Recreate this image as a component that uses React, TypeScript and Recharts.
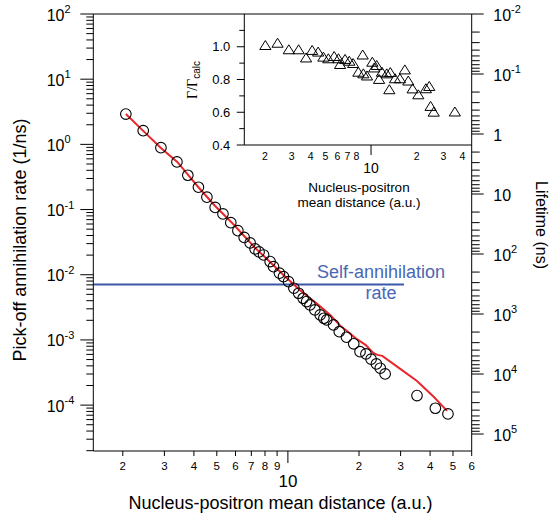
import React from 'react';
import { ComposedChart, ScatterChart, Scatter, Line, XAxis, YAxis, ReferenceLine } from 'recharts';

const FONT = '"Liberation Sans", Arial, Helvetica, sans-serif';
const RED = '#e8262b';
const BLUE = '#3b58a8';

// measured pick-off annihilation rates (circles)
const measuredDistance = [2.06, 2.44, 2.9, 3.39, 3.77, 4.18, 4.54, 4.92, 5.31, 5.73, 6.14, 6.53, 6.92, 7.26, 7.55, 7.89, 8.41, 8.69, 9.21, 9.58, 10.06, 10.6, 11.1, 11.6, 12.0, 12.4, 13.0, 13.7, 14.2, 14.6, 15.6, 16.5, 17.7, 19.0, 20.2, 21.4, 22.5, 23.7, 24.6, 25.8, 35.2, 42.1, 47.6];
const measuredRate = [2.92, 1.62, 0.89, 0.537, 0.336, 0.22, 0.155, 0.108, 0.0857, 0.063, 0.0474, 0.0373, 0.0308, 0.0249, 0.0224, 0.0201, 0.0159, 0.0133, 0.01055, 0.00935, 0.00783, 0.00621, 0.0052, 0.00436, 0.00387, 0.00344, 0.00289, 0.00242, 0.00215, 0.00203, 0.0017, 0.00134, 0.0011, 0.00087, 0.00066, 0.00061, 0.000506, 0.000429, 0.000368, 0.000301, 0.00014, 0.0000895, 0.0000733];

// calculated rate (red curve)
const calcDistance = [2.06, 2.44, 2.9, 3.4, 3.78, 4.17, 4.92, 5.75, 6.59, 7.26, 8.15, 9.58, 11.1, 12.2, 13.3, 15.1, 16.7, 17.8, 19.3, 21.3, 23.0, 23.9, 25.1, 29.9, 35.2, 41.4, 47.2];
const calcRate = [2.92, 1.61, 0.88, 0.537, 0.34, 0.222, 0.1135, 0.0646, 0.038, 0.0258, 0.01746, 0.00993, 0.00605, 0.00457, 0.00357, 0.00242, 0.00164, 0.00137, 0.00107, 0.00084, 0.00063, 0.00059, 0.00057, 0.000359, 0.000235, 0.000134, 0.0000815];

// self-annihilation level (blue line)
const selfDistance = [1.5, 31];
const SELF_RATE = 0.0071;

// inset: ratio Gamma / Gamma_calc (triangles)
const ratioDistance = [2.01, 2.42, 2.87, 3.33, 3.73, 4.09, 4.48, 4.85, 5.23, 5.71, 6.1, 6.25, 6.74, 7.19, 7.62, 8.25, 8.81, 8.9, 9.41, 10.2, 10.5, 10.9, 11.3, 11.8, 12.7, 13.2, 13.4, 14.4, 15.5, 16.7, 17.6, 18.8, 20.5, 23.0, 24.2, 24.7, 25.9, 35.7];
const ratioValue = [1.01, 1.024, 0.984, 0.984, 0.934, 0.98, 0.97, 0.939, 0.929, 0.943, 0.929, 0.894, 0.925, 0.914, 0.9, 0.847, 0.952, 0.837, 0.824, 0.908, 0.873, 0.888, 0.803, 0.847, 0.837, 0.74, 0.845, 0.807, 0.807, 0.861, 0.793, 0.745, 0.709, 0.746, 0.76, 0.638, 0.603, 0.604];

// axes
const X_DOMAIN = [1.5, 60];
const X_TICKS = [2, 3, 4, 5, 6, 7, 8, 9, 10, 20, 30, 40, 50, 60];
const RATE_DOMAIN = [Math.pow(10, -4.704), 100];
const RATE_DECADES = [-5, -4, -3, -2, -1, 0, 1, 2];
const LIFE_DOMAIN = [0.01, Math.pow(10, 5.283)];
const LIFE_DECADES = [-2, -1, 0, 1, 2, 3, 4, 5];
const MINOR_STEPS = [1, 2, 3, 4, 5, 6, 7, 8, 9];
const INSET_X_DOMAIN = [1.46, 46.1];
const INSET_X_TICKS = [2, 3, 4, 5, 6, 7, 8, 10, 20, 30, 40];
const INSET_Y_DOMAIN = [0.4, 1.2];
const INSET_Y_TICKS = [0.4, 0.5, 0.6, 0.7, 0.8, 0.9, 1.0, 1.1];
const INSET_Y_LABELS = [0.4, 0.6, 0.8, 1.0];

const logTicks = (decades: number[], domain: number[]) =>
  decades
    .flatMap((d) => MINOR_STEPS.map((m) => Number((m * Math.pow(10, d)).toPrecision(6))))
    .filter((v) => v >= domain[0] && v <= domain[1]);

const rateTicks = logTicks(RATE_DECADES, RATE_DOMAIN);
const lifeTicks = logTicks(LIFE_DECADES, LIFE_DOMAIN);

const isDecade = (v: number) => Math.abs(Math.log10(v) - Math.round(Math.log10(v))) < 1e-6;

const measured = measuredDistance.map((x, i) => ({ x, rate: measuredRate[i] }));
const calc = calcDistance.map((x, i) => ({ x, rate: calcRate[i] }));
const selfLine = selfDistance.map((x) => ({ x, rate: SELF_RATE }));
const ratio = ratioDistance.map((x, i) => ({ x, ratio: ratioValue[i] }));

function LeftTick(props: any) {
  const { x, y, payload } = props;
  const v = payload.value;
  const major = isDecade(v);
  return (
    <g>
      <line x1={x - (major ? 13 : 7)} y1={y} x2={x} y2={y} stroke="#000" />
      {major && (
        <text x={x - 46.6} y={y + 6.5} fontSize={16} fontFamily={FONT} fill="#000">
          10
          <tspan dy={-7.5} fontSize={11}>
            {Math.round(Math.log10(v))}
          </tspan>
        </text>
      )}
    </g>
  );
}

function RightTick(props: any) {
  const { x, y, payload } = props;
  const v = payload.value;
  const major = isDecade(v);
  const e = Math.round(Math.log10(v));
  return (
    <g>
      <line x1={x} y1={y} x2={x + (major ? 12 : 8)} y2={y} stroke="#000" />
      {major && (
        <text x={x + 21.6} y={y + 6.5} fontSize={16} fontFamily={FONT} fill="#000">
          {e === 0 ? '1' : '10'}
          {e !== 0 && e !== 1 && (
            <tspan dy={-7.5} fontSize={11}>
              {e}
            </tspan>
          )}
        </text>
      )}
    </g>
  );
}

function BottomTick(props: any) {
  const { x, y, payload } = props;
  const v = payload.value;
  const ten = v === 10;
  return (
    <g>
      <line x1={x} y1={y} x2={x} y2={y + (ten ? 12 : 5)} stroke="#000" />
      <text
        x={x}
        y={y + (ten ? 36 : 19)}
        fontSize={ten ? 17 : 11.5}
        fontFamily={FONT}
        textAnchor="middle"
        fill="#000"
      >
        {v > 10 ? v / 10 : v}
      </text>
    </g>
  );
}

function InsetYTick(props: any) {
  const { x, y, payload } = props;
  const v = payload.value;
  const labeled = INSET_Y_LABELS.some((l) => Math.abs(l - v) < 1e-6);
  return (
    <g>
      <line x1={x - (labeled ? 7.5 : 5)} y1={y} x2={x} y2={y} stroke="#000" />
      {labeled && (
        <text x={x - 14} y={y + 4.6} fontSize={13} fontFamily={FONT} textAnchor="end" fill="#000">
          {v.toFixed(1)}
        </text>
      )}
    </g>
  );
}

function InsetXTick(props: any) {
  const { x, y, payload } = props;
  const v = payload.value;
  const ten = v === 10;
  return (
    <g>
      {ten && <line x1={x} y1={y} x2={x} y2={y + 10} stroke="#000" />}
      <text
        x={x}
        y={y + (ten ? 28 : 15)}
        fontSize={ten ? 14 : 10.5}
        fontFamily={FONT}
        textAnchor="middle"
        fill="#000"
      >
        {v > 10 ? v / 10 : v}
      </text>
    </g>
  );
}

const Ring = (p: any) => <circle cx={p.cx} cy={p.cy} r={5.3} fill="none" stroke="#000" strokeWidth={1.1} />;

const Tri = (p: any) => (
  <path
    d={`M${p.cx},${p.cy - 4.6} L${p.cx + 5.6},${p.cy + 4.4} L${p.cx - 5.6},${p.cy + 4.4} Z`}
    fill="none"
    stroke="#000"
    strokeWidth={1}
  />
);

export default function App() {
  return (
    <div style={{ position: 'absolute', left: 0, top: 0, width: 550, height: 520, background: '#fff' }}>
      <div style={{ position: 'absolute', left: 0, top: 0 }}>
        <ComposedChart width={550} height={520} margin={{ top: 14, right: 0, bottom: 0, left: 0 }}>
          <XAxis
            dataKey="x"
            type="number"
            scale="log"
            domain={X_DOMAIN}
            allowDataOverflow
            ticks={X_TICKS}
            interval={0}
            tickSize={0}
            tickMargin={0}
            tickLine={false}
            tick={(p: any) => <BottomTick {...p} />}
            height={69}
            stroke="#000"
          />
          <YAxis
            yAxisId="rate"
            orientation="left"
            dataKey="rate"
            type="number"
            scale="log"
            domain={RATE_DOMAIN}
            allowDataOverflow
            ticks={rateTicks}
            interval={0}
            tickSize={0}
            tickMargin={0}
            tickLine={false}
            tick={(p: any) => <LeftTick {...p} />}
            width={93.3}
            stroke="#000"
          />
          <YAxis
            yAxisId="life"
            orientation="right"
            type="number"
            scale="log"
            domain={LIFE_DOMAIN}
            reversed
            allowDataOverflow
            ticks={lifeTicks}
            interval={0}
            tickSize={0}
            tickMargin={0}
            tickLine={false}
            tick={(p: any) => <RightTick {...p} />}
            width={78.3}
            stroke="#000"
          />
          <ReferenceLine yAxisId="rate" y={100} stroke="#000" />
          <Scatter yAxisId="rate" data={measured} shape={Ring} isAnimationActive={false} />
          <Line
            yAxisId="rate"
            data={selfLine}
            dataKey="rate"
            stroke={BLUE}
            strokeWidth={2}
            dot={false}
            type="linear"
            isAnimationActive={false}
          />
          <Line
            yAxisId="rate"
            data={calc}
            dataKey="rate"
            stroke={RED}
            strokeWidth={2}
            dot={false}
            type="linear"
            isAnimationActive={false}
          />
        </ComposedChart>
      </div>

      {/* inset */}
      <div style={{ position: 'absolute', left: 150, top: 0 }}>
        <ScatterChart width={400} height={220} margin={{ top: 14, right: 78.3, bottom: 0, left: 0 }}>
          <XAxis
            dataKey="x"
            type="number"
            scale="log"
            domain={INSET_X_DOMAIN}
            allowDataOverflow
            ticks={INSET_X_TICKS}
            interval={0}
            tickSize={0}
            tickMargin={0}
            tickLine={false}
            tick={(p: any) => <InsetXTick {...p} />}
            height={75}
            stroke="#000"
          />
          <YAxis
            dataKey="ratio"
            type="number"
            domain={INSET_Y_DOMAIN}
            allowDataOverflow
            ticks={INSET_Y_TICKS}
            interval={0}
            tickSize={0}
            tickMargin={0}
            tickLine={false}
            tick={(p: any) => <InsetYTick {...p} />}
            width={94.3}
            stroke="#000"
          />
          <Scatter data={ratio} shape={Tri} isAnimationActive={false} />
        </ScatterChart>
      </div>

      {/* titles */}
      <svg
        width={550}
        height={520}
        style={{ position: 'absolute', left: 0, top: 0, pointerEvents: 'none' }}
        fontFamily={FONT}
      >
        <text x={25.5} y={240} fontSize={18} textAnchor="middle" transform="rotate(-90 25.5 240)">
          Pick-off annihilation rate (1/ns)
        </text>
        <text x={536} y={225} fontSize={16} textAnchor="middle" transform="rotate(90 536 225)">
          Lifetime (ns)
        </text>
        <text x={280.5} y={509} fontSize={18} textAnchor="middle">
          Nucleus-positron mean distance (a.u.)
        </text>
        <text x={381} y={278} fontSize={18} textAnchor="middle" fill="#4a66b3">
          Self-annihilation
        </text>
        <text x={381} y={299} fontSize={18} textAnchor="middle" fill="#4a66b3">
          rate
        </text>
        <text x={359} y={192} fontSize={13.5} textAnchor="middle">
          Nucleus-positron
        </text>
        <text x={359} y={206.5} fontSize={13.5} textAnchor="middle">
          mean distance (a.u.)
        </text>
        <text x={197} y={80} fontSize={14} textAnchor="middle" transform="rotate(-90 197 80)">
          <tspan fontFamily='"Liberation Serif", "Times New Roman", serif'>Γ/Γ</tspan>
          <tspan fontSize={10} dy={3}>
            calc
          </tspan>
        </text>
      </svg>
    </div>
  );
}
